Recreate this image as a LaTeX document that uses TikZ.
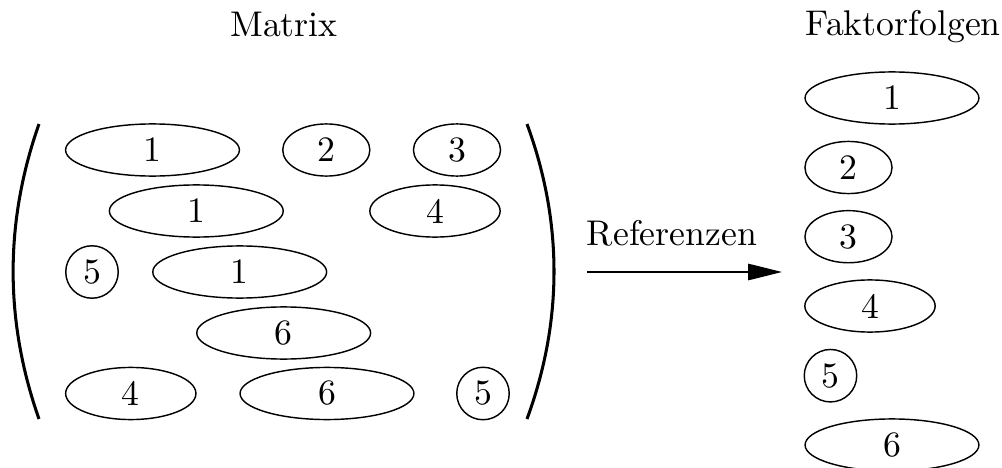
\documentclass[tikz,border=0pt]{standalone}
\usepackage{amsmath,amssymb}
\usepackage{tikz}
\usetikzlibrary{shapes.geometric, arrows.meta}

\begin{document}
\begin{tikzpicture}[x = 0.2801pt, y = -0.2801pt,
  elL/.style = {draw, ellipse, inner sep = 0pt, minimum height = 14.6pt, minimum width = 48.7pt},
  elM/.style = {draw, ellipse, inner sep = 0pt, minimum height = 14.6pt, minimum width = 36.5pt},
  elS/.style = {draw, ellipse, inner sep = 0pt, minimum height = 14.6pt, minimum width = 24.4pt},
  crc/.style = {draw, circle, inner sep = 0pt, minimum size = 14.7pt},
  lbl/.style = {inner sep = 0pt, anchor = base}]
\useasboundingbox (0,0) rectangle (1002,468);
% matrix
\node[lbl] (mat) at (284,36.5) {Matrix};
\node[elL] (a1) at (152.5,150) {1};
\node[elS] (a2) at (326.3,150) {2};
\node[elS] (a3) at (457,150) {3};
\node[elL] (b1) at (196.3,211) {1};
\node[elM] (b4) at (435,211) {4};
\node[crc] (c5) at (92,272) {5};
\node[elL] (c1) at (239.7,272) {1};
\node[elL] (d6) at (283.7,333) {6};
\node[elM] (e4) at (130.8,393.5) {4};
\node[elL] (e6) at (327,393.5) {6};
\node[crc] (e5) at (483,393.5) {5};
\draw[line width = 0.85pt] (39,124) .. controls (4.5,222) and (4.5,321) .. (39,419);
\draw[line width = 0.85pt] (527,124) .. controls (563,222) and (563,321) .. (527,419);
% references
\node[lbl] (ref) at (672,246) {Referenzen};
\coordinate (rs) at (587,272);
\coordinate (re) at (782,272);
\draw[-{Triangle[length = 9.5pt, width = 4.6pt]}] (rs) -- (re);
% factor sequences
\node[lbl, anchor = base west] (fak) at (805,36) {Faktorfolgen};
\node[elL] (f1) at (892,98) {1};
\node[elS] (f2) at (848.5,167.5) {2};
\node[elS] (f3) at (848.5,236.7) {3};
\node[elM] (f4) at (870,306) {4};
\node[crc] (f5) at (830.5,375.7) {5};
\node[elL] (f6) at (892,445) {6};
\end{tikzpicture}
\end{document}
